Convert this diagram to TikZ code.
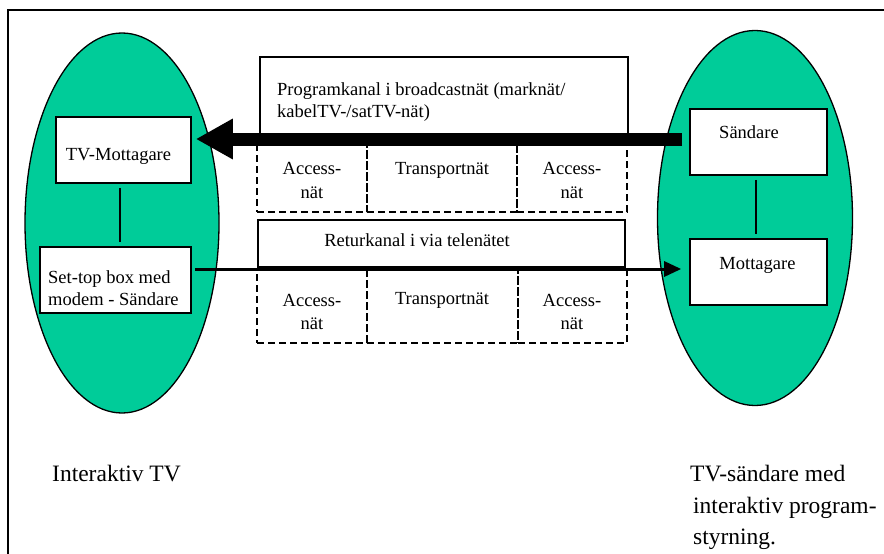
\documentclass[tikz,border=0pt]{standalone}
\usepackage{fontspec}
\setmainfont{Liberation Serif}
\usetikzlibrary{arrows.meta,shapes.geometric}
\definecolor{blobgreen}{RGB}{0,204,153}
\begin{document}
\begin{tikzpicture}[x=1pt,y=-1pt,
  blob/.style={ellipse, draw, line width=1.3pt, fill=blobgreen, inner sep=0pt},
  unit/.style={draw, line width=1.6pt, fill=white, inner sep=0pt},
  cell/.style={draw, dash pattern=on 7pt off 4pt, line width=2.6pt, inner sep=0pt},
  txt/.style={font=\fontsize{18.5}{21}\selectfont, inner sep=0pt, anchor=base},
  txtl/.style={txt, anchor=base west},
  captext/.style={font=\fontsize{23.5}{30}\selectfont, inner sep=0pt, anchor=base west},
  link/.style={line width=1.6pt}]
\useasboundingbox (0,0) rectangle (884,554);
\begin{scope}
\clip (0,0) rectangle (884,554);
% outer frame
\draw[line width=2pt] (8,10) rectangle (920,600);

% the two sites
\node[blob, minimum width=194pt, minimum height=380pt] (home) at (122,223) {};
\node[blob, minimum width=195pt, minimum height=375pt] (station) at (755,218) {};

% boxes at the viewer's end
\node[unit, minimum width=135pt, minimum height=66pt] (tvm) at (123.5,150) {};
\node[unit, minimum width=151pt, minimum height=66pt] (stb) at (115.5,280) {};
\node[txt] (tvmlabel) at (118.5,160) {TV-Mottagare};
\node[txtl] (stblabA) at (48,283) {Set-top box med};
\node[txtl] (stblabB) at (48,305) {modem - Sändare};

% boxes at the broadcaster's end
\node[unit, minimum width=137pt, minimum height=66pt] (snd) at (758.5,142) {};
\node[unit, minimum width=137pt, minimum height=66pt] (mot) at (758.5,272) {};
\node[txt] (sndlabel) at (749,138) {Sändare};
\node[txt] (motlabel) at (757.5,269) {Mottagare};

% internal links
\draw[link, shorten <=4pt, shorten >=4pt] (120,0 |- tvm.south) -- (120,0 |- stb.north);
\draw[link, shorten <=4pt, shorten >=4pt] (756,0 |- snd.south) -- (756,0 |- mot.north);

% broadcast channel
\node[unit, minimum width=368pt, minimum height=83pt] (prog) at (444,98.5) {};
\node[txtl] (proglabA) at (277,95) {Programkanal i broadcastnät (marknät/};
\node[txtl] (proglabB) at (277,117) {kabelTV-/satTV-nät)};
\node[cell, minimum width=110pt, minimum height=67pt] (accA) at (312,178.5) {};
\node[cell, minimum width=150pt, minimum height=67pt] (trA) at (442,178.5) {};
\node[cell, minimum width=110pt, minimum height=67pt] (accB) at (572,178.5) {};
\node[txt] (accAlabA) at (312,174) {Access-};
\node[txt] (accAlabB) at (312,198) {nät};
\node[txt] (trAlab) at (442,174) {Transportnät};
\node[txt] (accBlabA) at (572,174) {Access-};
\node[txt] (accBlabB) at (572,198) {nät};

% return channel
\node[unit, minimum width=367pt, minimum height=47pt] (ret) at (441.5,243.5) {};
\node[txt] (retlabel) at (417,246) {Returkanal i via telenätet};
\node[cell, minimum width=110pt, minimum height=73pt] (accC) at (312,306.5) {};
\node[cell, minimum width=151pt, minimum height=73pt] (trB) at (442.5,306.5) {};
\node[cell, minimum width=109pt, minimum height=73pt] (accD) at (572.5,306.5) {};
\node[txt] (accClabA) at (312,306) {Access-};
\node[txt] (accClabB) at (312,329) {nät};
\node[txt] (trBlab) at (442,304) {Transportnät};
\node[txt] (accDlabA) at (572,306) {Access-};
\node[txt] (accDlabB) at (572,329) {nät};

% signal flows
\draw[line width=13pt, -{Triangle[length=37pt,width=38pt]}]
  ([shift={(-7,-3)}]snd.west) -- ([shift={(4,-11)}]tvm.east);
\draw[line width=3pt, -{Triangle[length=17pt,width=15pt]}]
  ([shift={(3,-11)}]stb.east) -- ([shift={(-8,-3)}]mot.west);

% captions
\node[captext] (capA) at (52,481) {Interaktiv TV};
\node[captext] (capB) at (690,481) {TV-sändare med};
\node[captext] (capC) at (693,513) {interaktiv program-};
\node[captext] (capD) at (693,544) {styrning.};
\end{scope}
\end{tikzpicture}
\end{document}
